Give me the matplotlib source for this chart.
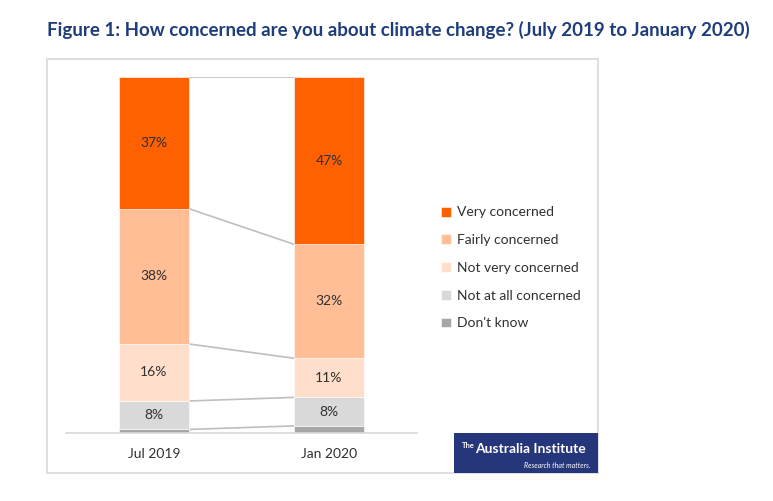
import matplotlib
matplotlib.use("Agg")
import matplotlib.pyplot as plt
from matplotlib.patches import Rectangle
import numpy as np

plt.rcParams['font.family'] = ['Lato', 'DejaVu Sans']

categories = ["Jul 2019", "Jan 2020"]
series = ["Don't know", "Not at all concerned", "Not very concerned", "Fairly concerned", "Very concerned"]
values = {
    "Don't know": [1, 2],
    "Not at all concerned": [8, 8],
    "Not very concerned": [16, 11],
    "Fairly concerned": [38, 32],
    "Very concerned": [37, 47],
}
labels_shown = {"Don't know": False, "Not at all concerned": True, "Not very concerned": True,
                "Fairly concerned": True, "Very concerned": True}
colors = {
    "Don't know": "#A6A6A6",
    "Not at all concerned": "#D9D9D9",
    "Not very concerned": "#FFDFCC",
    "Fairly concerned": "#FFBE96",
    "Very concerned": "#FF6000",
}
title = "Figure 1: How concerned are you about climate change? (July 2019 to January 2020)"

W, H = 773, 501
fig = plt.figure(figsize=(W/100, H/100), dpi=100)

def fx(px): return px / W
def fy(py): return 1 - py / H

# outer border
fig.patches.append(Rectangle((fx(47), fy(473)), fx(598) - fx(47), fy(59) - fy(473),
                             transform=fig.transFigure, fill=False, edgecolor="#D9D9D9", lw=1.2))

ax = fig.add_axes([fx(66), fy(433), fx(417) - fx(66), fy(77) - fy(433)])
x = np.arange(len(categories))
bw = 0.4
bottom = np.zeros(len(categories))
for s in series:
    v = np.array(values[s], dtype=float)
    ax.bar(x, v, bw, bottom=bottom, color=colors[s], edgecolor="white", linewidth=0.4, label=s, zorder=2)
    if labels_shown[s]:
        for xi, vi, bi in zip(x, v, bottom):
            ax.text(xi, bi + vi / 2, f"{int(vi)}%", ha="center", va="center", fontsize=10, color="#303030", zorder=3)
    top = bottom + v
    ax.plot([x[0] + bw/2, x[1] - bw/2], [top[0], top[1]], color="#BFBFBF", lw=1.2, zorder=1)
    bottom = top

ax.set_xlim(-0.503, 1.503)
ax.set_ylim(0, 100)
ax.set_xticks(x)
ax.set_xticklabels(categories, fontsize=10, color="#303030")
ax.tick_params(axis='x', length=0, pad=11)
ax.set_yticks([])
for sp in ["top", "right", "left"]:
    ax.spines[sp].set_visible(False)
ax.spines["bottom"].set_color("#D9D9D9")
ax.spines["bottom"].set_linewidth(1.2)

# legend
handles, labs = ax.get_legend_handles_labels()
leg = fig.legend(handles[::-1], labs[::-1], loc="upper left", bbox_to_anchor=(fx(429), fy(194)),
                 frameon=False, fontsize=10, handlelength=0.7, handleheight=0.7,
                 labelspacing=1.13, handletextpad=0.4, labelcolor="#303030")

# title
fig.text(fx(47), fy(30), title, fontsize=13.5, fontweight="bold", color="#1F3D7A", ha="left", va="center")

# logo
fig.patches.append(Rectangle((fx(454), fy(473)), fx(598) - fx(454), fy(433) - fy(473),
                             transform=fig.transFigure, facecolor="#26367A", edgecolor="none"))
fig.text(fx(462), fy(445), "The", fontsize=5.5, color="white", ha="left", va="center", fontweight="bold")
fig.text(fx(475), fy(449), "Australia Institute", fontsize=10, color="white", ha="left", va="center",
         fontweight="bold")
fig.text(fx(590), fy(465), "Research that matters.", fontsize=5, color="white", ha="right", va="center",
         style="italic")

fig.savefig("out.png", dpi=100)
